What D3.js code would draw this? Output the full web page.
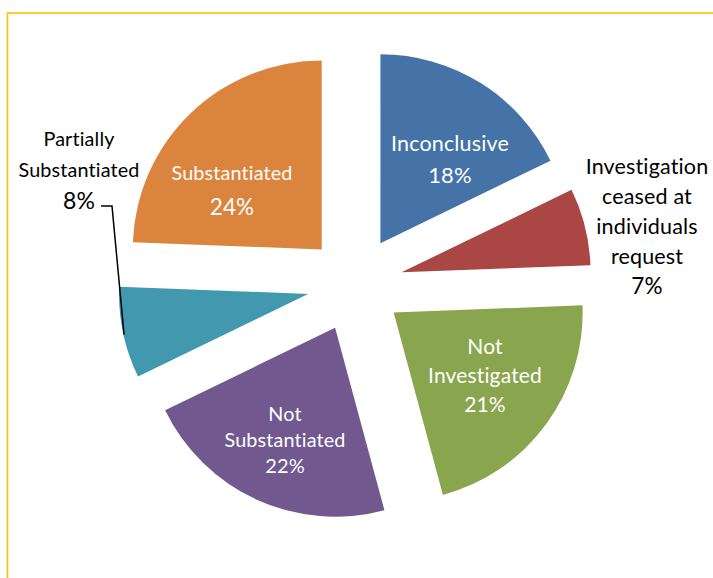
<!DOCTYPE html>
<html>
<head>
<meta charset="utf-8">
<script src="https://cdn.jsdelivr.net/npm/d3@7"></script>
<style>
  body { margin: 0; background: #fff; }
  svg { display: block; font-family: Lato, "Open Sans", sans-serif; }
</style>
</head>
<body>
<svg id="svg" width="713" height="578"></svg>
<script>
const categories = [
  "Inconclusive",
  "Investigation ceased at individuals request",
  "Not Investigated",
  "Not Substantiated",
  "Partially Substantiated",
  "Substantiated"
];
// shares (labels show them rounded)
const values = [17.8, 6.6, 21.4, 22.0, 7.8, 24.4];
const colors = ["#4572A7", "#AA4643", "#89A54E", "#71588F", "#4198AF", "#DB843D"];

// how each label is broken into lines
const labelLines = [
  ["Inconclusive"],
  ["Investigation", "ceased at", "individuals", "request"],
  ["Not", "Investigated"],
  ["Not", "Substantiated"],
  ["Partially", "Substantiated"],
  ["Substantiated"]
];

const svg = d3.select("#svg");

// yellow frame, open on the right and bottom
svg.append("rect")
  .attr("x", 7.5).attr("y", 13)
  .attr("width", 900).attr("height", 900)
  .attr("fill", "none")
  .attr("stroke", "#FFC000")
  .attr("stroke-width", 1.6);

const cx = 355, cy = 284;
const radius = 189;
const explode = 48;

const pie = d3.pie().sort(null).startAngle(0).endAngle(2 * Math.PI);
const arcs = pie(values);
const arc = d3.arc().innerRadius(0).outerRadius(radius);
const edgeArc = d3.arc().innerRadius(radius).outerRadius(radius);

const offset = d => {
  const a = (d.startAngle + d.endAngle) / 2;
  return [Math.sin(a) * explode, -Math.cos(a) * explode];
};

const g = svg.append("g").attr("transform", `translate(${cx},${cy})`);

g.selectAll("path")
  .data(arcs)
  .join("path")
  .attr("transform", d => `translate(${offset(d)})`)
  .attr("d", arc)
  .attr("fill", (d, i) => colors[i]);

// label layout: block centre relative to the pie centre, font size, line height
const labelLayout = [
  { dx: 95, dy: -125, size: 21.5, pct: 22, lh: 32, fill: "#fff" },
  { dx: 292, dy: -58, size: 21.5, pct: 22.5, lh: 30, fill: "#000" },
  { dx: 130, dy: 91, size: 21, pct: 21, lh: 29, fill: "#fff" },
  { dx: -70, dy: 156, size: 19.8, pct: 20, lh: 26, fill: "#fff" },
  { dx: -276, dy: -114, size: 19.8, pct: 23, lh: 31, fill: "#000" },
  { dx: -123, dy: -94, size: 19.8, pct: 22.5, lh: 34, fill: "#fff" }
];

const labels = g.append("g").attr("text-anchor", "middle");
arcs.forEach((d, i) => {
  const L = labelLayout[i];
  const lines = labelLines[i].map(t => ({ text: t, size: L.size }))
    .concat([{ text: Math.round(values[i]) + "%", size: L.pct }]);
  const n = lines.length;
  lines.forEach((ln, j) => {
    labels.append("text")
      .attr("x", L.dx)
      .attr("y", L.dy + (j - (n - 1) / 2) * L.lh + ln.size * 0.36)
      .attr("font-size", ln.size)
      .attr("fill", L.fill)
      // Lato joins "ti" otherwise
      .style("font-variant-ligatures", "none")
      .style("font-feature-settings", '"liga" 0, "clig" 0, "dlig" 0, "calt" 0')
      .style("letter-spacing", "0.15px")
      .text(ln.text);
  });
});

// leader line for the small partially substantiated slice
const ps = arcs[4];
const [ox, oy] = offset(ps);
const [ex, ey] = edgeArc.centroid(ps);
const lx = labelLayout[4].dx, ly = labelLayout[4].dy + labelLayout[4].lh;
g.append("path")
  .attr("d", d3.line()([[lx + 22, ly + 5], [lx + 33, ly + 5], [ex + ox + 1, ey + oy + 2]]))
  .attr("fill", "none")
  .attr("stroke", "#000")
  .attr("stroke-width", 1.5);
</script>
</body>
</html>
